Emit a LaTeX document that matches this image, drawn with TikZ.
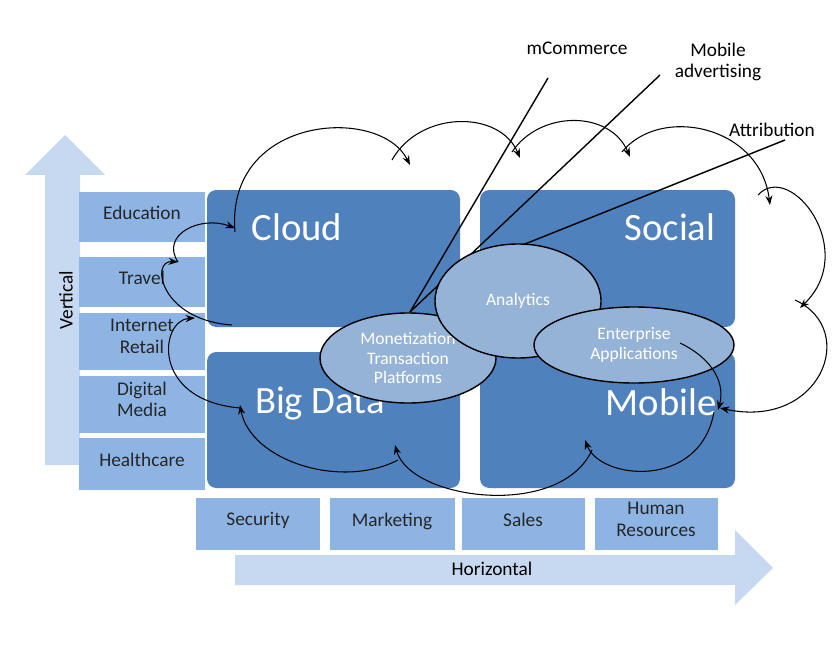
\documentclass[tikz,border=0pt]{standalone}
\usepackage{fontspec}
\setmainfont{Carlito}
\usetikzlibrary{shapes.geometric,arrows.meta}
\definecolor{boxdark}{HTML}{4F81BD}
\definecolor{boxlight}{HTML}{8EB4E3}
\definecolor{ovalfill}{HTML}{95B3D7}
\definecolor{arrowfill}{HTML}{C6D9F1}
\tikzset{
  tagbox/.style={draw=none,fill=boxlight,text=black!85,align=center,text depth=8pt,font=\fontsize{16.5}{18}\selectfont},
  bigtext/.style={text=white,font=\fontsize{33}{35}\selectfont},
  oval/.style={ellipse,draw=black,line width=1.2pt,fill=ovalfill,text=white,align=center,font=\fontsize{15}{17}\selectfont},
  loop/.style={-{Stealth[length=8pt]},line width=0.9pt},
  callout/.style={font=\fontsize{16.5}{18}\selectfont,align=center}
}
\begin{document}
\begin{tikzpicture}[x=0.03cm,y=-0.03cm]
\useasboundingbox (0,0) rectangle (840,649);

% arrows
\fill[arrowfill] (45,465) -- (45,175) -- (25,175) -- (65,135) -- (105,175) -- (80,175) -- (80,465) -- cycle;
\fill[arrowfill] (235,585) -- (735,585) -- (735,605) -- (773,568) -- (735,530) -- (735,555) -- (235,555) -- cycle;
\node[rotate=90,font=\fontsize{16.5}{18}\selectfont] (vert) at (66,300) {Vertical};
\node[font=\fontsize{16.5}{18}\selectfont] (horiz) at (492,569) {Horizontal};

% vertical tags
\node[tagbox,minimum width=3.75cm,minimum height=1.5cm] (edu) at (142,217) {Education};
\node[tagbox,minimum width=3.75cm,minimum height=1.5cm] (travel) at (142,282) {Travel};
\node[tagbox,minimum width=3.75cm,minimum height=1.71cm] (retail) at (142,341) {Internet\\Retail};
\node[tagbox,minimum width=3.75cm,minimum height=1.71cm] (media) at (142,404) {Digital\\Media};
\node[tagbox,minimum width=3.75cm,minimum height=1.56cm] (health) at (142,464) {Healthcare};

% horizontal tags
\node[tagbox,minimum width=3.69cm,minimum height=1.56cm] (security) at (258,524) {Security};
\node[tagbox,minimum width=3.75cm,minimum height=1.56cm] (marketing) at (392,524) {Marketing};
\node[tagbox,minimum width=3.69cm,minimum height=1.56cm] (sales) at (523,524) {Sales};
\node[tagbox,minimum width=3.69cm,minimum height=1.56cm] (hr) at (656,524) {Human\\Resources};

% main boxes
\fill[boxdark,rounded corners=8pt] (207,190) rectangle (460,327);
\fill[boxdark,rounded corners=8pt] (480,190) rectangle (735,327);
\fill[boxdark,rounded corners=8pt] (207,352) rectangle (460,488);
\fill[boxdark,rounded corners=8pt] (480,352) rectangle (735,488);
\node[bigtext] (cloud) at (297,227) {Cloud};
\node[bigtext] (social) at (670,227) {Social};
\node[bigtext] (bigdata) at (320,404) {Big Data};
\node[bigtext] (mobile) at (661,402) {Mobile};

% callouts
\node[callout] (mcom) at (577,48) {mCommerce};
\node[callout] (madv) at (718,62) {Mobile\\advertising};
\node[callout] (attr) at (772,130) {Attribution};
\coordinate (mtop) at (410,312);
\coordinate (atop) at (520,246);
\draw[line width=1.2pt] (mtop) -- (548,78);
\draw[line width=1.2pt] (mtop) -- (660,75);
\draw[line width=1.2pt] (atop) -- (785,140);

% ovals
\node[oval,minimum width=5.28cm,minimum height=2.7cm] (monet) at (408,358) {Monetization\\Transaction\\Platforms};
\node[oval,minimum width=4.98cm,minimum height=3.42cm] (analytics) at (518,301) {Analytics};
\node[oval,minimum width=6cm,minimum height=2.28cm] (enterprise) at (634,345) {Enterprise\\Applications};

% cloud of arrows
\draw[loop] (235,232) .. controls (225,115) and (380,105) .. (410,165);
\draw[loop] (392,160) .. controls (420,110) and (500,110) .. (520,158);
\draw[loop] (512,152) .. controls (540,110) and (610,110) .. (630,157);
\draw[loop] (622,152) .. controls (660,105) and (760,125) .. (770,205);
\draw[loop] (758,195) .. controls (790,160) and (860,250) .. (800,308);
\draw[loop] (795,300) .. controls (860,330) and (820,430) .. (720,408);
\draw[loop] (680,343) .. controls (715,360) and (725,385) .. (718,410);
\draw[loop] (714,412) .. controls (700,490) and (600,480) .. (585,440);
\draw[loop] (592,450) .. controls (560,520) and (410,500) .. (395,445);
\draw[loop] (398,460) .. controls (340,490) and (250,460) .. (240,405);
\draw[loop] (240,408) .. controls (150,400) and (160,320) .. (195,318);
\draw[loop] (232,325) .. controls (160,320) and (150,260) .. (178,262);
\draw[loop] (178,262) .. controls (160,235) and (200,215) .. (235,228);
\end{tikzpicture}
\end{document}
